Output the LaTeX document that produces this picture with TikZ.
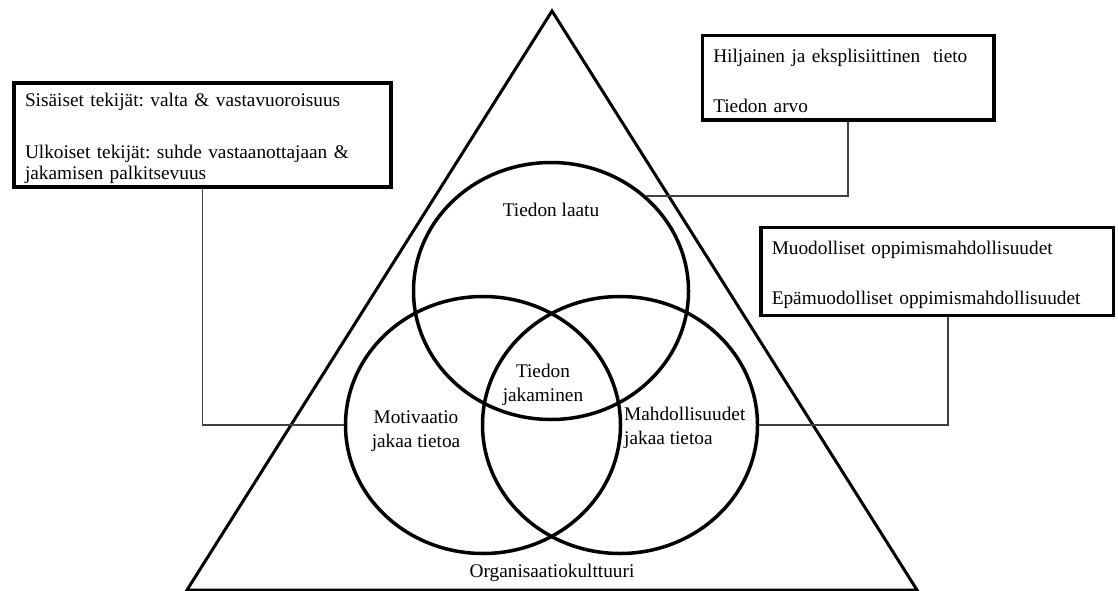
\documentclass[tikz,border=0pt]{standalone}
\usepackage{fontspec}
\setmainfont{Liberation Serif}
\usetikzlibrary{shapes.geometric, positioning}

\tikzset{
  infobox/.style={draw, line width=3.5pt, align=left, inner xsep=11pt, inner ysep=0pt,
    font=\fontsize{19.3}{21}\selectfont\frenchspacing},
  venn/.style={draw, ellipse, line width=3.5pt, minimum width=275pt, minimum height=257pt, inner sep=0pt},
  link/.style={line width=1.3pt, draw=black!75},
  lbl/.style={font=\fontsize{19.3}{24}\selectfont, inner sep=0pt},
}

\begin{document}
\begin{tikzpicture}[x=1pt, y=-1pt]
\useasboundingbox (0,0) rectangle (1118,591);
% triangle
\draw[line width=3pt, line join=miter] (552,11) -- (917,590) -- (187,590) -- cycle;
% circles
\node[venn] (quality) at (551,291) {};
\node[venn] (motivation) at (483,425) {};
\node[venn] (opportunity) at (620,425) {};
% labels
\node[lbl] (qualitytext) at (551,210) {Tiedon laatu};
\node[lbl, align=center] (sharing) at (543,385) {Tiedon\\jakaminen};
\node[lbl, align=center] (motivationtext) at (416,431) {Motivaatio\\jakaa tietoa};
\node[lbl, align=left, anchor=west] (opportunitytext) at (624,428) {Mahdollisuudet\\jakaa tietoa};
\node[lbl] (culture) at (552,573) {Organisaatiokulttuuri};
% boxes
\node[infobox, minimum width=377pt, minimum height=104pt, text width=355pt] (factors) at (202.5,135)
  {\rule{0pt}{20pt}Sisäiset tekijät: valta \& vastavuoroisuus\\[31pt]Ulkoiset tekijät: suhde vastaanottajaan \&\\jakamisen palkitsevuus};
\node[infobox, minimum width=291.5pt, minimum height=84.5pt, text width=269.5pt] (knowledge) at (848,78)
  {\rule{0pt}{20pt}Hiljainen ja eksplisiittinen\ \ tieto\\[29pt]Tiedon arvo};
\node[infobox, minimum width=352.5pt, minimum height=88pt, text width=330.5pt] (learning) at (937,271.5)
  {\rule{0pt}{20pt}Muodolliset oppimismahdollisuudet\\[29pt]Epämuodolliset oppimismahdollisuudet};
% connectors
\draw[link] (factors.south) |- (motivation.west);
\draw[link] (knowledge.south) |- (quality.45);
\draw[link] ([xshift=11pt]learning.south) |- (opportunity.east);
\end{tikzpicture}
\end{document}
